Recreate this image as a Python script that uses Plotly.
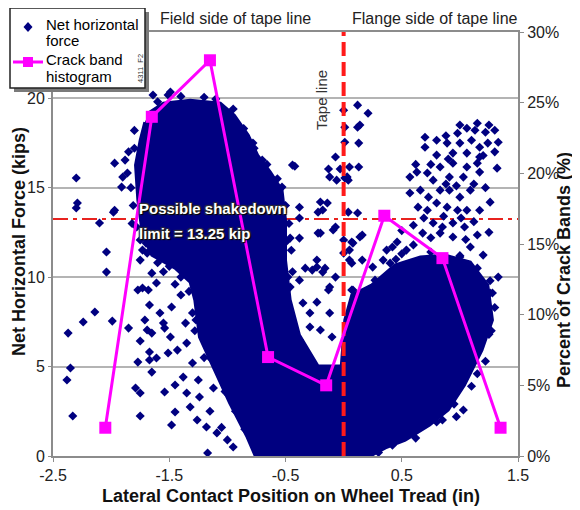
import plotly.graph_objects as go

# ---------------- data ----------------
# Crack band histogram (secondary axis, percent)
hist_x = [-2.05, -1.65, -1.15, -0.65, -0.15, 0.35, 0.85, 1.35]
hist_pct = [2, 24, 28, 7, 5, 17, 14, 2]

# Outline of the saturated (dense) part of the net-horizontal-force cloud
dense_x = [-1.67, -1.55, -1.32, -1.06, -0.94, -0.82, -0.74, -0.63, -0.53, -0.50,
           -0.50, -0.46, -0.38, -0.22, -0.02, 0.01, 0.07, 0.24, 0.44, 0.66,
           0.87, 1.09, 1.24, 1.28, 1.19, 1.04, 0.90, 0.74, 0.53, 0.36,
           0.23, -0.76, -0.83, -0.98, -1.11, -1.24, -1.28, -1.32, -1.45, -1.65,
           -1.73, -1.77, -1.79, -1.75, -1.71]
dense_y = [19.22, 19.72, 19.89, 19.72, 19.05, 17.93, 16.82, 15.87, 14.86, 13.19,
           10.95, 8.72, 6.76, 5.03, 5.03, 7.60, 9.00, 9.55, 10.67, 11.12,
           11.23, 10.84, 9.55, 7.60, 5.92, 3.97, 2.57, 1.73, 0.89, 0.45,
           0.00, 0.00, 1.06, 2.96, 4.80, 6.65, 8.72, 9.72, 10.50, 11.23,
           12.35, 14.30, 16.26, 17.65, 18.66]

# Individually visible (scattered) net horizontal force points
net_pts = [
    # left scatter band
    (-2.04, 10.28), (-1.77, 9.28), (-1.68, 9.28), (-1.67, 8.44), (-2.14, 8.05), (-2.24, 7.49),
    (-1.99, 7.54), (-2.37, 6.87), (-1.85, 7.15), (-1.71, 7.60), (-1.69, 7.04), (-1.65, 6.87),
    (-1.55, 7.43), (-1.75, 6.43), (-1.67, 5.81), (-1.67, 5.37), (-1.61, 5.48), (-1.77, 5.25),
    (-1.65, 4.69), (-1.51, 5.76), (-1.49, 6.65), (-1.58, 7.99), (-1.48, 8.33), (-2.35, 4.92),
    (-2.38, 4.25), (-1.79, 3.80), (-1.75, 3.52), (-1.54, 3.58), (-1.45, 3.97), (-1.38, 4.41),
    (-2.33, 2.24), (-1.75, 2.24), (-1.48, 1.73), (-1.45, 2.46), (-1.35, 3.52), (-1.32, 2.74),
    (-1.26, 2.01), (-1.17, 0.17), (-1.35, 6.31), (-1.43, 5.92), (-1.54, 7.15), (-1.61, 9.67),
    (-1.36, 7.43), (-1.30, 5.20), (-1.25, 4.25), (-1.24, 3.30), (-1.18, 1.62), (-1.09, 1.29),
    (-1.40, 9.00), (-1.30, 8.00), (-1.15, 2.50), (-1.05, 1.60), (-1.00, 0.90), (-0.95, 0.50),
    (-1.12, 3.80), (-1.20, 5.50), (-1.28, 7.00), (-1.45, 9.60), (-1.55, 10.30), (-1.40, 10.00),
    # upper left
    (-2.30, 15.54), (-2.29, 14.14), (-2.30, 13.86), (-2.10, 13.02), (-2.04, 11.40), (-1.98, 13.63),
    (-1.97, 16.37), (-1.88, 16.54), (-1.86, 15.82), (-1.64, 20.18), (-1.51, 20.18), (-0.44, 16.26),
    (-1.69, 11.34), (-1.65, 10.22), (-1.73, 9.39), (-1.75, 12.07), (-1.91, 15.03), (-1.49, 20.35),
    (-1.90, 15.59), (-1.97, 13.74), (-1.75, 10.95), (-1.73, 11.51), (-1.82, 13.00), (-1.85, 17.00),
    (-1.80, 18.20),
    # ragged edge of left lobe
    (-1.80, 17.20), (-1.83, 15.00), (-1.81, 14.00), (-1.78, 12.80), (-1.70, 11.90), (-1.60, 10.80),
    (-1.50, 10.60), (-1.60, 19.80), (-1.40, 20.10), (-1.20, 20.05), (-1.10, 19.95), (-0.95, 19.40),
    (-0.86, 18.30), (-0.77, 17.20), (-0.66, 16.30), (-0.57, 15.50), (-0.50, 14.00), (-0.49, 12.00),
    (-0.48, 10.00), (-0.85, 1.50), (-0.93, 2.50), (-1.02, 3.60), (-1.15, 5.50), (-1.27, 7.60),
    (-1.33, 9.20),
    # right flank of left lobe
    (-0.53, 15.03), (-0.63, 15.59), (-0.70, 16.54), (-0.78, 17.49), (-0.55, 14.20), (-0.47, 13.00),
    (-0.45, 11.50), (-0.44, 10.30),
    # around the tape line
    (0.00, 19.33), (0.12, 19.61), (0.21, 19.16), (0.01, 18.38), (0.12, 18.38), (0.01, 17.54),
    (0.13, 17.49), (-0.07, 16.71), (-0.13, 16.04), (-0.03, 16.04), (0.05, 16.15), (0.13, 16.15),
    (0.01, 15.54), (-0.06, 15.42), (-0.42, 16.20), (0.14, 18.50), (-0.12, 15.60), (0.03, 15.60),
    (-0.38, 13.90), (-0.38, 13.30), (-0.20, 14.20), (-0.14, 14.14), (-0.18, 13.75), (0.04, 13.63),
    (0.12, 13.58), (-0.20, 12.46), (-0.07, 12.80), (0.00, 12.07), (0.14, 12.24), (-0.38, 12.18),
    (-0.33, 10.50), (-0.27, 10.39), (-0.23, 10.56), (-0.18, 10.28), (-0.07, 10.00), (0.05, 11.51),
    (0.05, 10.95), (0.16, 10.95), (-0.12, 9.44), (0.08, 9.28), (-0.22, 13.63), (-0.46, 12.18),
    (-0.22, 12.46), (-0.09, 12.63), (0.07, 11.96), (0.16, 12.35), (-0.23, 10.95), (-0.16, 10.50),
    (0.07, 10.78), (0.25, 10.56), (0.27, 9.83), (-0.38, 9.83), (-0.46, 9.44), (-0.13, 9.28),
    (-0.35, 8.55), (-0.23, 8.60), (0.14, 8.55), (-0.46, 7.99), (-0.29, 7.99), (-0.12, 7.99),
    (-0.44, 7.21), (-0.29, 7.21), (-0.20, 7.04), (-0.10, 6.65), (-0.38, 6.48), (0.07, 9.28),
    (0.23, 9.11), (0.37, 11.51), (0.40, 10.78), (0.46, 11.96), (0.04, 15.42), (0.00, 11.34),
    (0.08, 11.90), (0.24, 9.11),
    # upper right cluster
    (0.70, 17.82), (0.80, 17.65), (0.70, 17.26), (0.89, 17.49), (0.98, 18.04), (1.06, 18.32),
    (1.13, 18.21), (1.22, 18.10), (1.30, 18.21), (1.33, 17.54), (1.00, 17.49), (1.10, 17.65),
    (1.17, 17.26), (1.24, 17.49), (0.94, 16.93), (1.06, 16.93), (1.17, 16.71), (0.80, 16.82),
    (0.83, 16.15), (0.94, 16.37), (1.06, 16.15), (1.15, 16.37), (1.32, 16.09), (0.57, 15.59),
    (0.63, 15.87), (0.72, 15.82), (0.77, 15.42), (0.91, 15.59), (1.03, 15.59), (1.17, 15.87),
    (0.57, 14.70), (0.66, 14.86), (0.73, 14.47), (0.83, 14.86), (0.91, 14.86), (1.00, 14.47),
    (1.09, 14.86), (1.26, 14.19), (0.64, 13.91), (0.72, 13.74), (0.80, 14.14), (0.89, 13.91),
    (0.98, 13.74), (1.06, 13.74), (1.17, 13.74), (0.77, 13.02), (0.85, 12.80), (0.94, 13.02),
    (1.04, 12.80), (1.15, 12.35), (0.83, 12.46), (0.68, 12.46), (0.94, 12.24), (1.20, 11.23),
    (0.42, 11.68), (0.54, 11.51), (0.34, 10.95), (1.09, 11.68), (1.00, 11.12),
    (0.75, 16.30), (0.88, 15.20), (0.97, 15.10), (1.12, 15.20), (1.22, 15.00), (0.69, 13.30),
    (0.86, 13.40), (1.01, 13.30), (1.12, 13.10), (0.60, 12.90), (0.75, 12.20), (1.05, 12.10),
    (0.50, 12.60), (0.45, 11.00), (0.60, 11.80), (1.25, 12.50), (1.30, 17.00), (1.20, 16.80),
    (0.88, 17.90), (1.00, 18.50), (1.15, 18.60), (1.25, 18.50), (0.90, 16.60), (0.62, 16.30),
    # right lobe flanks
    (1.26, 9.11), (1.20, 7.43), (1.17, 6.09), (1.03, 2.57), (0.85, 2.01), (1.09, 6.48),
    (1.06, 5.53), (1.20, 8.72), (1.28, 9.11), (1.33, 10.00), (1.30, 8.30), (1.25, 6.80),
    (1.15, 4.60), (0.97, 2.20), (1.27, 7.00), (1.22, 5.30), (1.10, 3.90), (0.95, 2.90),
    (0.80, 1.90), (0.62, 1.00), (0.42, 0.60), (0.30, 0.20), (0.50, 11.30), (0.75, 11.40),
    (1.00, 11.20), (1.15, 10.50), (1.26, 9.80),
]
net_x = [p[0] for p in net_pts]
net_y = [p[1] for p in net_pts]

tape_line_x = 0.0
shakedown_limit = 13.25

x_tick_vals = [-2.5, -1.5, -0.5, 0.5, 1.5]
x_tick_text = ["-2.5", "-1.5", "-0.5", "0.5", "1.5"]
y_tick_vals = [0, 5, 10, 15, 20]
pct_tick_vals = [0, 5, 10, 15, 20, 25, 30]
pct_tick_text = ["0%", "5%", "10%", "15%", "20%", "25%", "30%"]

assert len(dense_x) == len(dense_y)

# ---------------- style ----------------
NAVY = "#000080"
MAGENTA = "#ff00ff"
RED = "#ff1a1a"
AXIS = "#8c8c8c"
GRID = "#b4b4b4"
FONT = "Liberation Sans"
Y_MAX = 23.7
X_RANGE = [-2.5, 1.5]

fig = go.Figure()

# shakedown limit line (below the cloud)
fig.add_trace(go.Scatter(
    x=X_RANGE, y=[shakedown_limit, shakedown_limit], mode="lines",
    line=dict(color="#e8231f", width=2, dash="15px,5px,4px,5px"),
    showlegend=False, hoverinfo="skip"))

# dense cloud
fig.add_trace(go.Scatter(
    x=dense_x, y=dense_y, mode="lines", fill="toself", fillcolor=NAVY,
    line=dict(color=NAVY, width=3), showlegend=False, hoverinfo="skip"))

# scattered points
fig.add_trace(go.Scatter(
    x=net_x, y=net_y, mode="markers",
    marker=dict(symbol="diamond", size=7, color=NAVY),
    name="Net horizontal force", showlegend=False))

# tape line
fig.add_trace(go.Scatter(
    x=[tape_line_x, tape_line_x], y=[0, Y_MAX], mode="lines",
    line=dict(color=RED, width=4, dash="14px,6px"),
    showlegend=False, hoverinfo="skip"))

# crack band histogram
fig.add_trace(go.Scatter(
    x=hist_x, y=hist_pct, yaxis="y2", mode="lines+markers",
    line=dict(color=MAGENTA, width=3),
    marker=dict(symbol="square", size=12, color=MAGENTA),
    name="Crack band histogram", showlegend=False))

tickfont = dict(family=FONT, size=16, color="#222222")
title_font = dict(family=FONT, size=18, color="#111111", weight="bold")

# the page adds an 8px body margin, so the figure is sized 8px smaller
fig.update_layout(
    width=572, height=502,
    margin=dict(l=45, r=62, t=24, b=54, autoexpand=False),
    paper_bgcolor="white", plot_bgcolor="white",
    font=dict(family=FONT, color="#222222"),
    showlegend=False,
    xaxis=dict(range=X_RANGE, tickvals=x_tick_vals, ticktext=x_tick_text,
               showline=True, linecolor=AXIS, linewidth=2, mirror=True,
               ticks="outside", ticklen=4, tickcolor=AXIS, tickfont=tickfont,
               showgrid=False, zeroline=False, automargin=False),
    yaxis=dict(range=[0, Y_MAX], tickvals=y_tick_vals,
               showline=True, linecolor=AXIS, linewidth=2,
               ticks="outside", ticklen=3, tickcolor=AXIS, tickfont=tickfont,
               showgrid=True, gridcolor=GRID, gridwidth=1.5, zeroline=False,
               automargin=False),
    yaxis2=dict(range=[0, 30], tickvals=pct_tick_vals, ticktext=pct_tick_text,
                overlaying="y", side="right",
                showline=True, linecolor=AXIS, linewidth=2,
                ticks="outside", ticklen=4, tickcolor=AXIS, tickfont=tickfont,
                showgrid=False, zeroline=False, automargin=False),
)


# ---- legend box (drawn as decoration in paper coordinates) ----
def px_x(px):  # page pixel -> paper x
    return (px - 53) / 465.0


def px_y(py):  # page pixel -> paper y
    return (456 - py) / 424.0


shapes = []
shapes.append(dict(type="rect", xref="paper", yref="paper",
                   x0=px_x(14), x1=px_x(149), y0=px_y(92), y1=px_y(12),
                   fillcolor="#7a7a7a", line=dict(width=0), layer="above"))
shapes.append(dict(type="rect", xref="paper", yref="paper",
                   x0=px_x(10), x1=px_x(145), y0=px_y(88), y1=px_y(8),
                   fillcolor="white", line=dict(color="#222222", width=1.5), layer="above"))
cx, cy = 28, 27
shapes.append(dict(type="path", xref="paper", yref="paper",
                   path=(f"M {px_x(cx - 4.5)},{px_y(cy)} L {px_x(cx)},{px_y(cy - 5)} "
                         f"L {px_x(cx + 4.5)},{px_y(cy)} L {px_x(cx)},{px_y(cy + 5)} Z"),
                   fillcolor=NAVY, line=dict(width=0), layer="above"))
shapes.append(dict(type="line", xref="paper", yref="paper",
                   x0=px_x(13), x1=px_x(43), y0=px_y(62), y1=px_y(62),
                   line=dict(color=MAGENTA, width=3), layer="above"))
shapes.append(dict(type="rect", xref="paper", yref="paper",
                   x0=px_x(23), x1=px_x(33), y0=px_y(67), y1=px_y(57),
                   fillcolor=MAGENTA, line=dict(width=0), layer="above"))
fig.update_layout(shapes=shapes)

ann = []
legend_font = dict(family=FONT, size=15, color="black")
for txt, py in [("Net horizontal", 24), ("force", 40), ("Crack band", 60), ("histogram", 76)]:
    ann.append(dict(text=txt, xref="paper", yref="paper", x=px_x(44), y=px_y(py),
                    showarrow=False, xanchor="left", yanchor="middle", font=legend_font))
ann.append(dict(text="4311_F2", xref="paper", yref="paper", x=px_x(140), y=px_y(69),
                textangle=-90, showarrow=False, xanchor="center", yanchor="middle",
                font=dict(family=FONT, size=7.5, color="#333333")))

ann.append(dict(text="Net Horizontal Force (kips)", xref="paper", yref="paper",
                x=px_x(19), y=px_y(242), textangle=-90, showarrow=False,
                xanchor="center", yanchor="middle", font=title_font))
ann.append(dict(text="Percent of Crack Bands (%)", xref="paper", yref="paper",
                x=px_x(564), y=px_y(270), textangle=-90, showarrow=False,
                xanchor="center", yanchor="middle", font=title_font))
ann.append(dict(text="Lateral Contact Position on Wheel Tread (in)", xref="paper", yref="paper",
                x=px_x(291), y=px_y(496), showarrow=False,
                xanchor="center", yanchor="middle", font=title_font))
ann.append(dict(text="Field side of tape line", xref="paper", yref="paper",
                x=px_x(235), y=px_y(18), showarrow=False, xanchor="center", yanchor="middle",
                font=dict(family=FONT, size=16, color="#222222")))
ann.append(dict(text="Flange side of tape line", xref="paper", yref="paper",
                x=px_x(435), y=px_y(18), showarrow=False, xanchor="center", yanchor="middle",
                font=dict(family=FONT, size=16, color="#222222")))
ann.append(dict(text="Tape line", xref="x", yref="y", x=-0.186, y=19.9,
                textangle=-90, showarrow=False, xanchor="center", yanchor="middle",
                font=dict(family=FONT, size=15, color="#333333")))
shadow_font = dict(family=FONT, size=15, color="white", weight="bold",
                   shadow="1px 1px 1px #000000, -1px -1px 1px #333333, 1px -1px 1px #333333, -1px 1px 1px #333333")
ann.append(dict(text="Possible shakedown", xref="x", yref="y", x=-1.777, y=13.85,
                showarrow=False, xanchor="left", yanchor="middle", font=shadow_font))
ann.append(dict(text="limit = 13.25 kip", xref="x", yref="y", x=-1.777, y=12.46,
                showarrow=False, xanchor="left", yanchor="middle", font=shadow_font))
fig.update_layout(annotations=ann)

fig.write_html("out.html")
